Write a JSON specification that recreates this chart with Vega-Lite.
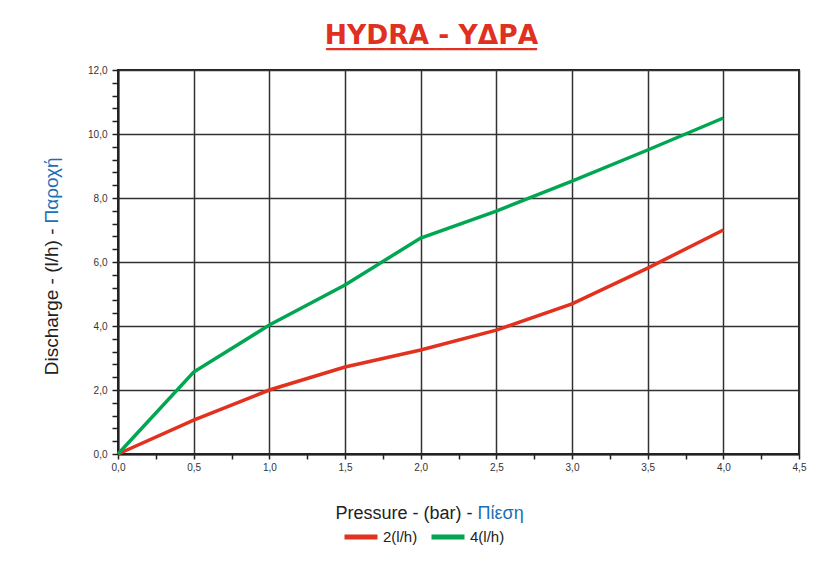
{
  "$schema": "https://vega.github.io/schema/vega-lite/v6.json",
  "width": 681,
  "height": 384,
  "autosize": {"type": "none"},
  "padding": {"left": 118, "top": 70, "right": 22, "bottom": 108},
  "background": "white",
  "title": {
    "text": "HYDRA - \u03a5\u0394\u03a1\u0391",
    "subtitle": "\u2501\u2501\u2501\u2501\u2501\u2501\u2501\u2501\u2501\u2501\u2501\u2501\u2501\u2501\u2501\u2501\u2501\u2501\u2501\u2501\u2501\u2501\u2501\u2501\u2501",
    "font": "DejaVu Sans",
    "fontSize": 26.5,
    "fontWeight": "bold",
    "color": "#e03022",
    "subtitleFont": "DejaVu Sans",
    "subtitleFontSize": 14,
    "subtitleColor": "#e03022",
    "subtitlePadding": -16,
    "anchor": "middle",
    "frame": "group",
    "baseline": "alphabetic",
    "dx": -27,
    "offset": -13
  },
  "data": {
    "values": [
      {"p": 0.0, "q": 0.0, "s": "2(l/h)"},
      {"p": 0.5, "q": 1.06, "s": "2(l/h)"},
      {"p": 1.0, "q": 2.0, "s": "2(l/h)"},
      {"p": 1.5, "q": 2.72, "s": "2(l/h)"},
      {"p": 2.0, "q": 3.25, "s": "2(l/h)"},
      {"p": 2.5, "q": 3.87, "s": "2(l/h)"},
      {"p": 3.0, "q": 4.69, "s": "2(l/h)"},
      {"p": 3.5, "q": 5.81, "s": "2(l/h)"},
      {"p": 4.0, "q": 7.0, "s": "2(l/h)"},
      {"p": 0.0, "q": 0.0, "s": "4(l/h)"},
      {"p": 0.5, "q": 2.56, "s": "4(l/h)"},
      {"p": 1.0, "q": 4.03, "s": "4(l/h)"},
      {"p": 1.5, "q": 5.28, "s": "4(l/h)"},
      {"p": 2.0, "q": 6.75, "s": "4(l/h)"},
      {"p": 2.5, "q": 7.59, "s": "4(l/h)"},
      {"p": 3.0, "q": 8.53, "s": "4(l/h)"},
      {"p": 3.5, "q": 9.5, "s": "4(l/h)"},
      {"p": 4.0, "q": 10.5, "s": "4(l/h)"}
    ]
  },
  "layer": [
    {
      "mark": {"type": "line", "strokeWidth": 3.5},
      "encoding": {
        "x": {
          "field": "p",
          "type": "quantitative",
          "scale": {"domain": [0, 4.5], "nice": false, "zero": true},
          "axis": {
            "values": [0, 0.25, 0.5, 0.75, 1, 1.25, 1.5, 1.75, 2, 2.25, 2.5, 2.75, 3, 3.25, 3.5, 3.75, 4, 4.25, 4.5],
            "labelExpr": "datum.value % 0.5 == 0 ? replace(format(datum.value, '.1f'), '.', ',') : ''",
            "labelOverlap": false,
            "labelFlush": false,
            "labelPadding": 3,
            "tickSize": 5,
            "tickColor": "#222",
            "tickWidth": 1.5,
            "domainColor": "#222",
            "domainWidth": 2,
            "grid": true,
            "gridColor": "#333",
            "gridWidth": 1.5,
            "gridOpacity": {"condition": {"test": "datum.value % 0.5 == 0", "value": 1}, "value": 0},
            "title": "Pressure - (bar) -",
            "titleAlign": "right",
            "titleAnchor": "start",
            "titleBaseline": "alphabetic",
            "titleX": 354,
            "titleY": 64
          }
        },
        "y": {
          "field": "q",
          "type": "quantitative",
          "scale": {"domain": [0, 12], "nice": false},
          "axis": {
            "values": [0, 0.4, 0.8, 1.2, 1.6, 2, 2.4, 2.8, 3.2, 3.6, 4, 4.4, 4.8, 5.2, 5.6, 6, 6.4, 6.8, 7.2, 7.6, 8, 8.4, 8.8, 9.2, 9.6, 10, 10.4, 10.8, 11.2, 11.6, 12],
            "labelExpr": "abs(datum.value / 2 - round(datum.value / 2)) < 0.001 ? replace(format(datum.value, '.1f'), '.', ',') : ''",
            "labelOverlap": false,
            "labelFlush": false,
            "labelPadding": 5,
            "tickSize": 6,
            "tickColor": "#222",
            "tickWidth": 1.5,
            "domainColor": "#222",
            "domainWidth": 2,
            "grid": true,
            "gridColor": "#333",
            "gridWidth": 1.5,
            "gridOpacity": {"condition": {"test": "abs(datum.value / 2 - round(datum.value / 2)) < 0.001", "value": 1}, "value": 0},
            "title": "Discharge - (l/h) -",
            "titleFontSize": 19,
            "titleAngle": -90,
            "titleAlign": "right",
            "titleAnchor": "start",
            "titleBaseline": "alphabetic",
            "titleX": -61,
            "titleY": 158
          }
        },
        "color": {
          "field": "s",
          "type": "nominal",
          "scale": {"domain": ["2(l/h)", "4(l/h)"], "range": ["#e2321f", "#00a651"]},
          "legend": {
            "orient": "none",
            "legendX": 224,
            "legendY": 448,
            "direction": "horizontal",
            "title": null,
            "symbolType": "stroke",
            "symbolSize": 1089,
            "symbolStrokeWidth": 5,
            "labelFont": "Liberation Sans",
            "labelFontSize": 15,
            "labelColor": "#222",
            "labelOffset": 3,
            "columnPadding": 3,
            "padding": 0
          }
        }
      }
    },
    {
      "mark": {"type": "point", "opacity": 0},
      "encoding": {
        "x": {
          "field": "p",
          "type": "quantitative",
          "axis": {
            "orient": "top",
            "domain": false,
            "ticks": false,
            "labels": false,
            "grid": false,
            "title": "Πίεση",
            "titleColor": "#1a6fb5",
            "titleAlign": "left",
            "titleAnchor": "start",
            "titleBaseline": "alphabetic",
            "titleX": 359,
            "titleY": 448
          }
        },
        "y": {
          "field": "q",
          "type": "quantitative",
          "axis": {
            "orient": "right",
            "domain": false,
            "ticks": false,
            "labels": false,
            "grid": false,
            "title": "Παροχή",
            "titleFontSize": 19,
            "titleColor": "#1a6fb5",
            "titleAngle": -90,
            "titleAlign": "left",
            "titleAnchor": "start",
            "titleBaseline": "alphabetic",
            "titleX": -742,
            "titleY": 153
          }
        }
      }
    }
  ],
  "resolve": {"axis": {"x": "independent", "y": "independent"}},
  "config": {
    "view": {"stroke": "#222", "strokeWidth": 2},
    "axis": {
      "labelFont": "Liberation Sans",
      "labelFontSize": 10,
      "labelColor": "#333",
      "titleFont": "Liberation Sans",
      "titleFontSize": 18,
      "titleFontWeight": "normal",
      "titleColor": "#222"
    }
  }
}
